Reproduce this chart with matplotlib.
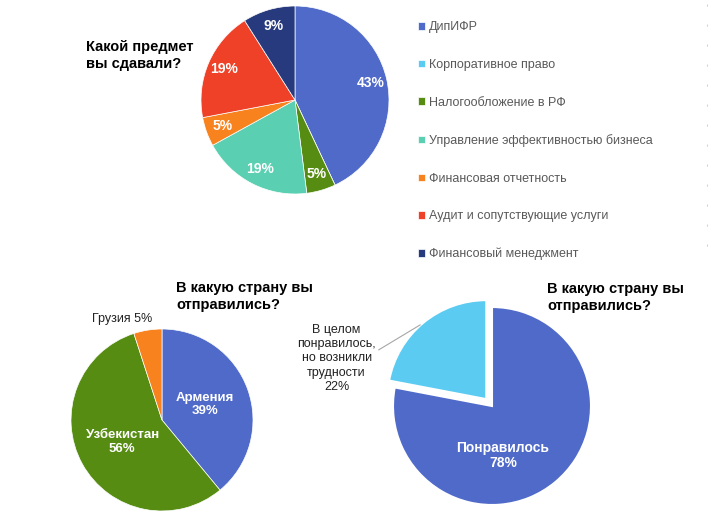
import matplotlib
matplotlib.use('Agg')
import matplotlib.pyplot as plt
import numpy as np

plt.rcParams['font.family'] = ['Liberation Sans', 'DejaVu Sans']

W, H = 709, 524

# --- data ---
subjects = ['ДипИФР', 'Корпоративное право', 'Налогообложение в РФ',
            'Управление эффективностью бизнеса', 'Финансовая отчетность',
            'Аудит и сопутствующие услуги', 'Финансовый менеджмент']
subject_share = [43, 0, 5, 19, 5, 19, 9]
subject_colors = ['#4F6AC9', '#5BCBF2', '#568C12', '#5BCFB1',
                  '#F7821E', '#EF4128', '#263A7D']

countries = ['Армения', 'Узбекистан', 'Грузия']
country_share = [39, 56, 5]
country_colors = ['#4F6AC9', '#568C12', '#F7821E']

opinions = ['Понравилось', 'В целом\nпонравилось,\nно возникли\nтрудности']
opinion_share = [78, 22]
opinion_colors = ['#4F6AC9', '#5BCBF2']
opinion_explode = [0, 0.09]

fig = plt.figure(figsize=(W / 100, H / 100), dpi=100)


def pie_axes(cx, cy, r, pad):
    # square axes in pixel units, unit circle == r pixels
    s = r * pad
    ax = fig.add_axes([(cx - s) / W, 1 - (cy + s) / H, 2 * s / W, 2 * s / H])
    return ax


def finish(ax, pad):
    ax.set_xlim(-pad, pad)
    ax.set_ylim(-pad, pad)
    ax.set_aspect('equal')
    ax.axis('off')


def mid(w):
    a = np.deg2rad((w.theta1 + w.theta2) / 2)
    return np.cos(a), np.sin(a)


# faint dashed guide at the right edge
fig.add_artist(plt.Line2D([707 / W, 707 / W], [1 - 4 / H, 1 - 262 / H],
                          color='#d5d5d5', lw=0.8, dashes=(2, 16)))

# --- top pie ---
ax1 = pie_axes(295, 100, 94, 1.05)
w1, _ = ax1.pie(subject_share, colors=subject_colors, startangle=90,
                counterclock=False, wedgeprops=dict(edgecolor='white', linewidth=0.5))
for w, v in zip(w1, subject_share):
    if v == 0:
        continue
    x, y = mid(w)
    ax1.text(0.82 * x, 0.82 * y, f'{v}%', ha='center', va='center',
             color='white', fontsize=10, fontweight='bold')
finish(ax1, 1.05)

fig.text(86 / W, 1 - 40 / H, 'Какой предмет\nвы сдавали?', ha='left', va='top',
         fontsize=10.5, fontweight='bold', linespacing=1.25)

fig.legend(w1, subjects, loc='upper left', bbox_to_anchor=(407 / W, 1 - 10 / H),
           frameon=False, fontsize=9, labelcolor='#595959', handlelength=0.55,
           handleheight=0.55, handletextpad=0.3, labelspacing=2.05)

# --- bottom left pie ---
ax2 = pie_axes(162, 420, 91, 1.4)
w2, _ = ax2.pie(country_share, colors=country_colors, startangle=90,
                counterclock=False, wedgeprops=dict(edgecolor='white', linewidth=0.5))
for w, name, v in zip(w2, countries, country_share):
    x, y = mid(w)
    if v < 10:
        ax2.text(1.2 * x - 0.25, 1.12 * y, f'{name} {v}%', ha='center', va='center',
                 color='#222222', fontsize=9)
    else:
        ax2.text(0.5 * x, 0.5 * y, f'{name}\n{v}%', ha='center', va='center',
                 color='white', fontsize=9.5, fontweight='bold', linespacing=1.15)
finish(ax2, 1.4)

fig.text(176 / W, 1 - 281 / H, 'В какую страну вы\nотправились?', ha='left', va='top',
         fontsize=10.5, fontweight='bold', linespacing=1.3)

# --- bottom right pie ---
ax3 = pie_axes(492, 406, 99, 1.9)
w3, _ = ax3.pie(opinion_share, colors=opinion_colors, startangle=90,
                counterclock=False, explode=opinion_explode,
                wedgeprops=dict(edgecolor='white', linewidth=1.5))
ax3.text(0.11, -0.5, f'{opinions[0]}\n{opinion_share[0]}%', ha='center', va='center',
         color='white', fontsize=10, fontweight='bold', linespacing=1.15)
x, y = mid(w3[1])
edge = 1 + opinion_explode[1]
ax3.annotate(f'{opinions[1]}\n{opinion_share[1]}%', xy=(edge * x - 0.03, edge * y - 0.02),
             xytext=(-1.57, 0.48), ha='center', va='center', fontsize=9,
             color='#222222', linespacing=1.25,
             arrowprops=dict(arrowstyle='-', color='#a6a6a6', lw=0.8,
                             shrinkA=0, shrinkB=0, relpos=(1.0, 0.6)))
finish(ax3, 1.9)

fig.text(547 / W, 1 - 282 / H, 'В какую страну вы\nотправились?', ha='left', va='top',
         fontsize=10.5, fontweight='bold', linespacing=1.3)

fig.savefig('out.png', dpi=100, facecolor='white')
